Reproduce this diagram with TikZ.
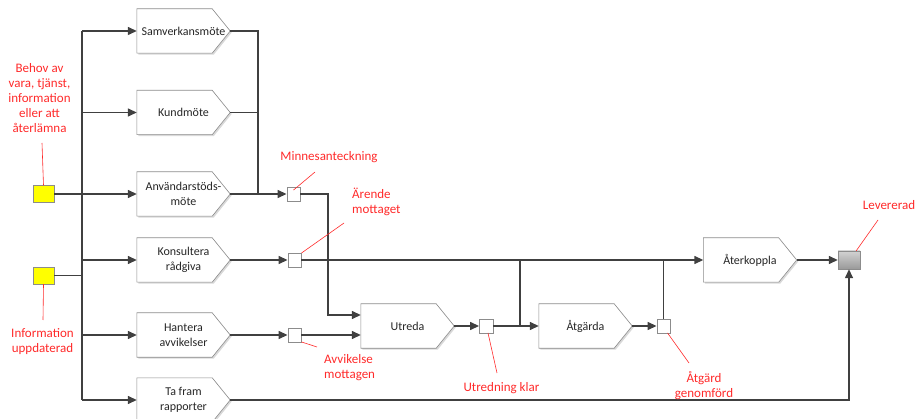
\documentclass[tikz,border=0pt]{standalone}
\usepackage{fontspec}
\setmainfont{Carlito}
\usetikzlibrary{arrows.meta,backgrounds}

\definecolor{linje}{HTML}{404040}
\definecolor{kant}{HTML}{8C8C8C}
\definecolor{rod}{HTML}{FF2A2A}
\definecolor{gul}{HTML}{FFFF00}

\begin{document}
\begin{tikzpicture}[x=1pt,y=-1pt,
  proc/.style={minimum width=93pt, minimum height=44pt, inner sep=0pt,
    align=center, text=black!85, font=\fontsize{12}{14.5}\selectfont},
  kontur/.style={draw=kant, fill=white, line width=0.6pt},
  skugga/.style={fill=black!15},
  evt/.style={draw=kant, fill=white, minimum size=13.5pt, inner sep=0pt},
  trig/.style={draw=kant, fill=gul, minimum width=21pt, minimum height=17pt, inner sep=0pt},
  flode/.style={draw=linje, line width=1.4pt},
  pil/.style={flode, -{Triangle[length=9pt,width=8pt]}},
  note/.style={text=rod, align=center, inner sep=0pt, font=\fontsize{13}{15}\selectfont},
  anm/.style={draw=rod, line width=0.6pt}]

\useasboundingbox (0,0) rectangle (915,419);

% start events
\node[trig] (beh) at (43.5,194) {};
\node[trig] (inf) at (43.5,275.5) {};

% processes
\node[proc] (sam)  at (183.5,31)    {Samverkansmöte};
\node[proc] (kund) at (183.5,112.5) {Kundmöte};
\node[proc] (anv)  at (183.5,194)   {Användarstöds-\\möte};
\node[proc] (kons) at (183.5,260)   {Konsultera\\rådgiva};
\node[proc] (hant) at (183.5,335)   {Hantera\\avvikelser};
\node[proc] (rapp) at (183.5,400)   {Ta fram\\rapporter};

\node[evt] (minn)   at (293.5,194) {};
\node[evt] (arende) at (294.5,260) {};
\node[evt] (avv)    at (294.5,335) {};

\node[proc] (utreda) at (407.5,326) {Utreda};
\node[evt]  (uklar)  at (486,326)   {};
\node[proc] (atg)    at (585.5,326) {Åtgärda};
\node[evt]  (agen)   at (663.5,326) {};
\node[proc] (ater)   at (750,260)   {Återkoppla};
\node[draw=kant, top color=gray!35, bottom color=gray!80, minimum width=22pt,
  minimum height=18pt, inner sep=0pt] (lev) at (849,260) {};

% pointed outlines behind the process texts
\begin{scope}[on background layer]
\foreach \n in {sam,kund,anv,kons,hant,rapp,utreda,atg,ater} {
  \fill[skugga] ([shift={(1.5pt,-1.5pt)}]\n.north west)
    -- ([shift={(-16.5pt,-1.5pt)}]\n.north east) -- ([shift={(1.5pt,-1.5pt)}]\n.east)
    -- ([shift={(-16.5pt,-1.5pt)}]\n.south east) -- ([shift={(1.5pt,-1.5pt)}]\n.south west) -- cycle;
  \draw[kontur] (\n.north west) -- ([xshift=-18pt]\n.north east) -- (\n.east)
    -- ([xshift=-18pt]\n.south east) -- (\n.south west) -- cycle;
}
\end{scope}

% bus lines
\coordinate (bus)  at (82,0);
\coordinate (saml) at (258,0);
\coordinate (nedA) at (328,0);
\coordinate (upA)  at (520,0);

\draw[flode] (bus |- sam) -- (bus |- rapp);
\foreach \n in {sam,kund,anv,kons,hant,rapp}
  \draw[pil] (bus |- \n) -- (\n.west);
\draw[flode] (beh.east) -- (bus |- beh);
\draw[flode] (inf.east) -- (bus |- inf);

\draw[flode] (sam.east) -- (saml |- sam) -- (saml |- anv);
\draw[flode] (kund.east) -- (saml |- kund);
\draw[pil] (anv.east)  -- (minn.west);
\draw[pil] (kons.east) -- (arende.west);
\draw[pil] (hant.east) -- (avv.west);

\draw[pil] (minn.east) -- (nedA |- minn) |- ([yshift=11pt]utreda.west);
\draw[pil] (avv.east) -- (avv -| utreda.west);
\draw[pil] (arende.east) -- (ater.west);
\draw[pil] (utreda.east) -- (uklar.west);
\draw[pil] (uklar.east) -- (atg.west);
\draw[flode] (upA |- uklar) -- (upA |- ater);
\draw[pil] (atg.east) -- (agen.west);
\draw[flode] (agen.north) -- (agen |- ater);
\draw[pil] (ater.east) -- (lev.west);
\draw[pil] (rapp.east) -| (lev.south);

% red notes
\node[note] (behtxt)  at (39.5,98)  {Behov av\\vara, tjänst,\\information\\eller att\\återlämna};
\node[note] (inftxt)  at (42.5,342) {Information\\uppdaterad};
\node[note] (minntxt) at (329,157)  {Minnesanteckning};
\node[note, anchor=west, align=left] (arendetxt) at (352,201.5) {Ärende\\mottaget};
\node[note, anchor=west, align=left] (avvtxt)    at (324,367.5) {Avvikelse\\mottagen};
\node[note] (uklartxt) at (501.5,388) {Utredning klar};
\node[note] (agentxt)  at (704,385.5) {Åtgärd\\genomförd};
\node[note] (levtxt)   at (889,205)   {Levererad};

\coordinate (a1) at (42,143);
\coordinate (a2) at (43,320);
\coordinate (a3) at (315,172);
\coordinate (a4) at (344,223);
\coordinate (a5) at (317,347);
\coordinate (a6) at (497,373);
\coordinate (a7) at (689,363);
\coordinate (a8) at (878,220);
\draw[anm] (beh.north) -- (a1);
\draw[anm] (inf.south) -- (a2);
\draw[anm] ([yshift=-3pt]minn.north) -- (a3);
\draw[anm] (arende.north east) -- (a4);
\draw[anm] (avv.south east) -- (a5);
\draw[anm] ([xshift=2pt]uklar.south) -- (a6);
\draw[anm] ([xshift=4pt]agen.south) -- (a7);
\draw[anm] ([xshift=-4pt]lev.north east) -- (a8);

\end{tikzpicture}
\end{document}
